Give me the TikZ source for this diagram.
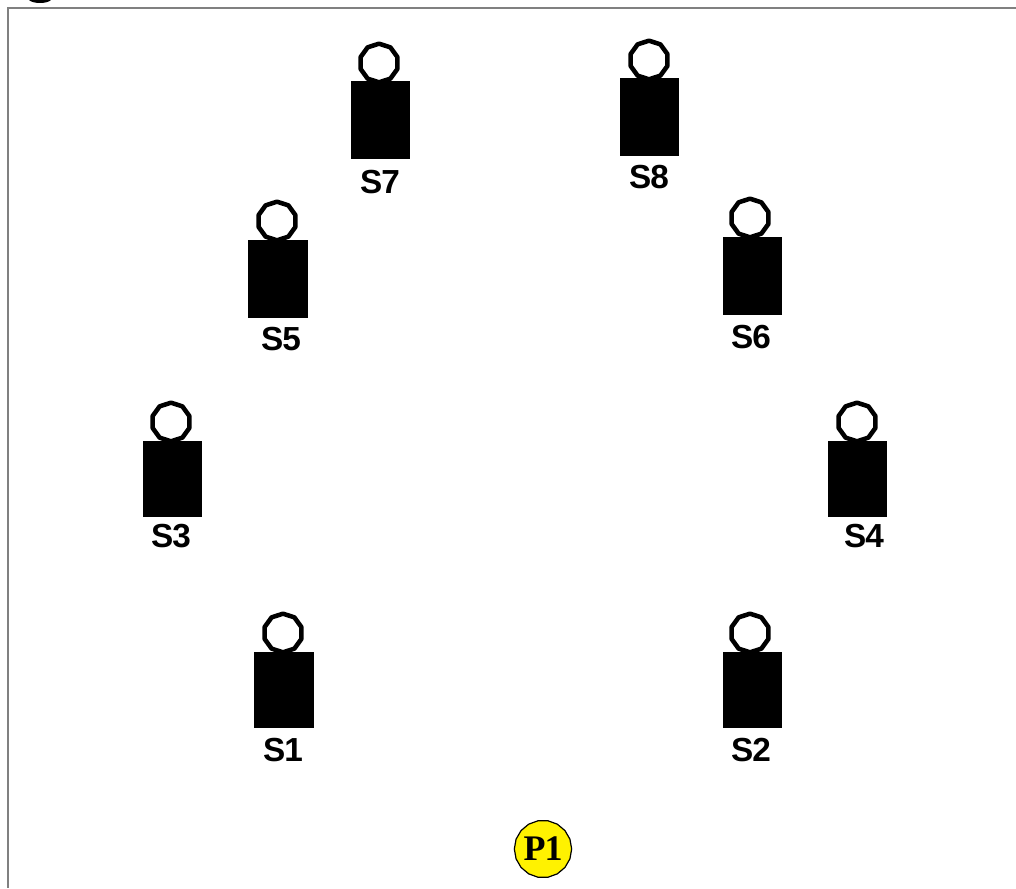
\documentclass[tikz,border=0pt]{standalone}
\usepackage{fontspec}
\setmainfont[LetterSpace=-3]{Liberation Sans}
\newfontfamily\serifbold[LetterSpace=-3]{Liberation Serif}
\usetikzlibrary{shapes.geometric}
\tikzset{
  x=0.75pt,y=-0.75pt,
  frameline/.style={draw=black!50,line width=1.2pt},
  bodybox/.style={rectangle,fill=black,draw=none,inner sep=0pt,minimum width=44.4pt,minimum height=58.5pt},
  shortbody/.style={minimum height=57pt},
  headring/.style={regular polygon,regular polygon sides=10,shape border rotate=18,draw=black,fill=white,line width=3.4pt,line join=round,inner sep=0pt,minimum size=29pt},
  seatlabel/.style={font=\fontsize{25}{25}\selectfont\bfseries,inner sep=0pt,text=black},
  pnode/.style={regular polygon,regular polygon sides=18,draw=black,fill=yellow,line width=0.9pt,inner sep=0pt,minimum size=43pt,font=\serifbold\fontsize{27}{27}\selectfont\bfseries}
}
\begin{document}
\begin{tikzpicture}
\useasboundingbox (0,0) rectangle (1016,888);
\draw[frameline] (1016,8) -- (8,8) -- (8,888);
\fill[black] (29,0) .. controls (33,4) and (47,4) .. (51,0) -- cycle;
% S7
\node[bodybox] (b7) at (380.5,120) {};
\node[headring] (h7) at (379,63) {};
\node[seatlabel] (l7) at (380,182) {S7};
% S8
\node[bodybox] (b8) at (649.5,117.5) {};
\node[headring] (h8) at (649,60) {};
\node[seatlabel] (l8) at (649,177) {S8};
% S5
\node[bodybox] (b5) at (278,278.5) {};
\node[headring] (h5) at (277,221) {};
\node[seatlabel] (l5) at (281,339) {S5};
% S6
\node[bodybox] (b6) at (752.5,276) {};
\node[headring] (h6) at (750,218) {};
\node[seatlabel] (l6) at (751,337) {S6};
% S3
\node[bodybox,shortbody] (b3) at (172.5,479) {};
\node[headring] (h3) at (171,422) {};
\node[seatlabel] (l3) at (171,536) {S3};
% S4
\node[bodybox,shortbody] (b4) at (857.5,479) {};
\node[headring] (h4) at (857,422) {};
\node[seatlabel] (l4) at (864,536) {S4};
% S1
\node[bodybox,shortbody] (b1) at (284,690) {};
\node[headring] (h1) at (283,633) {};
\node[seatlabel] (l1) at (283,750) {S1};
% S2
\node[bodybox,shortbody] (b2) at (752.5,690) {};
\node[headring] (h2) at (750,633) {};
\node[seatlabel] (l2) at (751,750) {S2};
% P1
\node[pnode] (p1) at (543,849) {P1};
\end{tikzpicture}
\end{document}
